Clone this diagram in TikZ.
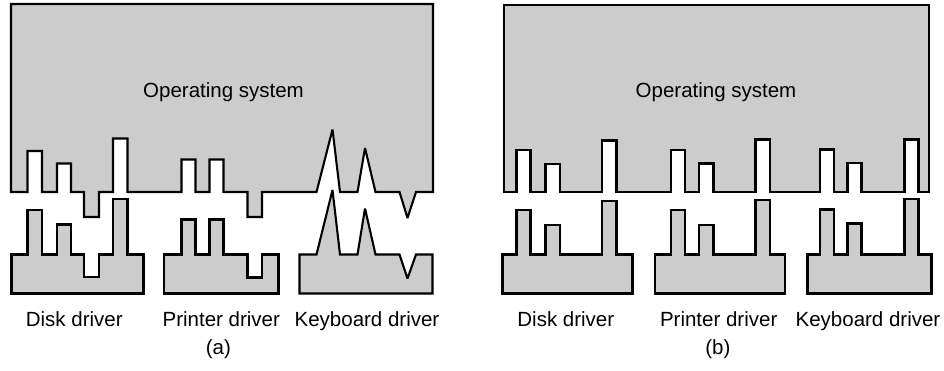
\documentclass[tikz,border=0pt]{standalone}
\usepackage{fontspec}
\setmainfont{Liberation Sans}
\definecolor{osgray}{RGB}{204,204,204}
\tikzset{
  part/.style={draw=black, fill=osgray, line width=2.1pt, line join=miter, miter limit=3},
  lbl/.style={anchor=base, inner sep=0pt, font=\fontsize{20.5}{24}\selectfont},
}
\begin{document}
\begin{tikzpicture}[x=1pt, y=-1pt]
\useasboundingbox (0,0) rectangle (944,371);

% ---------- (a) drivers that fit the operating system only in their own way ----------
% operating system block with its irregular sockets
\path[part] (11,4) -- (433,4) -- (433,192)
  -- (416,192) -- (407.5,218) -- (399.5,192) -- (375.5,192) -- (365,148) -- (357.5,192)
  -- (340,192) -- (332.5,129.5) -- (316.5,192)
  -- (262,192) -- (262,217) -- (247.5,217) -- (247.5,192)
  -- (223.5,192) -- (223.5,159.5) -- (209.5,159.5) -- (209.5,192)
  -- (195.5,192) -- (195.5,159.5) -- (181.5,159.5) -- (181.5,192)
  -- (127.5,192) -- (127.5,138.5) -- (113,138.5) -- (113,192)
  -- (99,192) -- (99,217) -- (84,217) -- (84,192)
  -- (71,192) -- (71,163.5) -- (57,163.5) -- (57,192)
  -- (42,192) -- (42,151) -- (27.5,151) -- (27.5,192)
  -- (11,192) -- cycle;
\node[lbl] (osa) at (223.5,97.3) {Operating system};

% disk driver
\path[part] (11.5,293.5) -- (11.5,254.5)
  -- (27.5,254.5) -- (27.5,210) -- (42,210) -- (42,254.5)
  -- (57,254.5) -- (57,224.5) -- (71,224.5) -- (71,254.5)
  -- (84,254.5) -- (84,277) -- (99,277) -- (99,254.5)
  -- (113,254.5) -- (113,199) -- (127.5,199) -- (127.5,254.5)
  -- (143.5,254.5) -- (143.5,293.5) -- cycle;
% printer driver
\path[part] (164,293.5) -- (164,254.5)
  -- (181.5,254.5) -- (181.5,219.5) -- (195.5,219.5) -- (195.5,254.5)
  -- (209.5,254.5) -- (209.5,219.5) -- (223.5,219.5) -- (223.5,254.5)
  -- (247.5,254.5) -- (247.5,277.5) -- (262,277.5) -- (262,254.5)
  -- (278.5,254.5) -- (278.5,293.5) -- cycle;
% keyboard driver
\path[part] (299.5,293.5) -- (299.5,254.5)
  -- (316.5,254.5) -- (332.5,190) -- (340,254.5)
  -- (357.5,254.5) -- (365,208.5) -- (375.5,254.5)
  -- (399.5,254.5) -- (407.5,278.5) -- (416,254.5)
  -- (432.5,254.5) -- (432.5,293.5) -- cycle;

\node[lbl] (da) at (74.3,326.7) {Disk driver};
\node[lbl] (pa) at (221.3,326.7) {Printer driver};
\node[lbl] (ka) at (367,326.7) {Keyboard driver};
\node[lbl] (capa) at (218.3,354) {(a)};

% ---------- (b) drivers that all fit one standard socket layout ----------
\path[part] (504,5) -- (929,5) -- (929,192)
  -- (918.5,192) -- (918.5,139.5) -- (904.5,139.5) -- (904.5,192)
  -- (861.5,192) -- (861.5,163) -- (847.5,163) -- (847.5,192)
  -- (834,192) -- (834,149.5) -- (820,149.5) -- (820,192)
  -- (770,192) -- (770,139.5) -- (755.5,139.5) -- (755.5,192)
  -- (713.5,192) -- (713.5,163.5) -- (699,163.5) -- (699,192)
  -- (685,192) -- (685,150) -- (671,150) -- (671,192)
  -- (616.5,192) -- (616.5,140.5) -- (602,140.5) -- (602,192)
  -- (560,192) -- (560,164) -- (545.5,164) -- (545.5,192)
  -- (530.5,192) -- (530.5,150) -- (516.5,150) -- (516.5,192)
  -- (504,192) -- cycle;
\node[lbl] (osb) at (716,97.3) {Operating system};

% disk driver
\path[part] (502.5,293.5) -- (502.5,254.5)
  -- (516.5,254.5) -- (516.5,210) -- (530.5,210) -- (530.5,254.5)
  -- (545.5,254.5) -- (545.5,225) -- (560,225) -- (560,254.5)
  -- (602,254.5) -- (602,201) -- (616.5,201) -- (616.5,254.5)
  -- (632.5,254.5) -- (632.5,293.5) -- cycle;
% printer driver
\path[part] (655,293.5) -- (655,254.5)
  -- (671,254.5) -- (671,210) -- (685,210) -- (685,254.5)
  -- (699,254.5) -- (699,225) -- (713.5,225) -- (713.5,254.5)
  -- (755.5,254.5) -- (755.5,200) -- (770,200) -- (770,254.5)
  -- (785,254.5) -- (785,293.5) -- cycle;
% keyboard driver
\path[part] (807.5,293.5) -- (807.5,254.5)
  -- (820,254.5) -- (820,209.5) -- (834,209.5) -- (834,254.5)
  -- (847.5,254.5) -- (847.5,223.5) -- (861.5,223.5) -- (861.5,254.5)
  -- (904.5,254.5) -- (904.5,199) -- (918.5,199) -- (918.5,254.5)
  -- (931.5,254.5) -- (931.5,293.5) -- cycle;

\node[lbl] (db) at (565.8,326.7) {Disk driver};
\node[lbl] (pb) at (718.7,326.7) {Printer driver};
\node[lbl] (kb) at (868,326.7) {Keyboard driver};
\node[lbl] (capb) at (717.8,354) {(b)};
\end{tikzpicture}
\end{document}
